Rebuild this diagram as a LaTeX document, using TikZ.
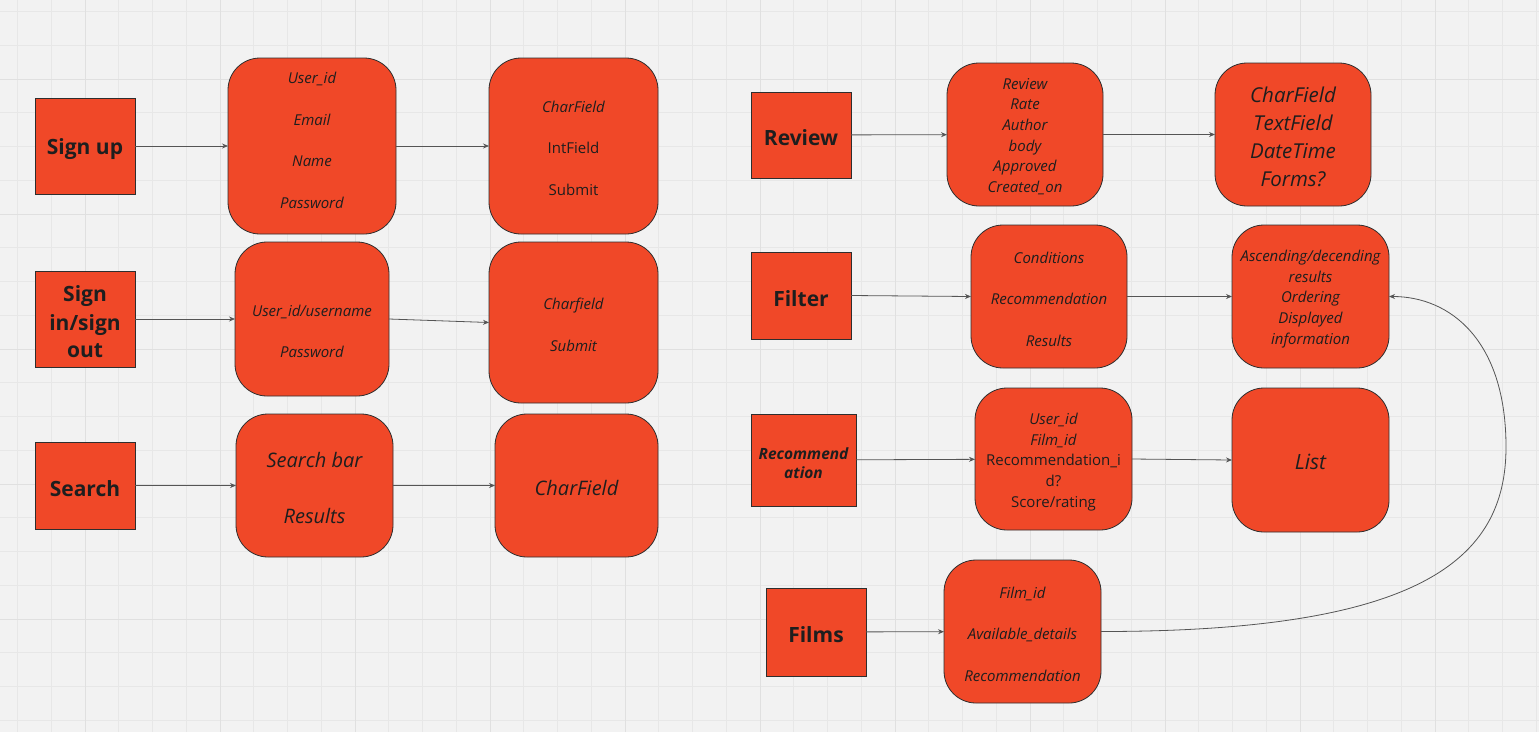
\documentclass[tikz,border=0pt]{standalone}
\usepackage{fontspec}
\setmainfont{Open Sans}
\usetikzlibrary{arrows.meta}

\definecolor{canvas}{HTML}{F2F2F2}
\definecolor{gridminor}{HTML}{E7E7E7}
\definecolor{gridmajor}{HTML}{E0E0E0}
\definecolor{boxfill}{HTML}{F04828}
\definecolor{edge}{HTML}{2E2E2E}
\definecolor{ink}{HTML}{1E1E1E}
\definecolor{wire}{HTML}{555555}

% lower a title by a few points without changing its box
\newcommand{\dropin}[1]{\raisebox{-3pt}[\height][\depth]{#1}}

\begin{document}
\begin{tikzpicture}[x=1pt, y=-1pt,
  entity/.style={draw=edge, fill=boxfill, line width=0.8pt, inner sep=0pt, outer sep=0pt, rectangle},
  field/.style={entity, rounded corners=32pt},
  head/.style={text=ink, align=center, font=\bfseries\fontsize{21}{28}\selectfont},
  body/.style={text=ink, align=center, inner sep=0pt, yshift=-2pt, font=\itshape\fontsize{15}{41.5}\selectfont},
  tight/.style={font=\itshape\fontsize{15}{20.7}\selectfont},
  big/.style={font=\itshape\fontsize{20.5}{28}\selectfont},
  link/.style={draw=wire, line width=0.8pt, -{Stealth[length=6pt, width=5pt]}},
]
% canvas and grid
\useasboundingbox (0,0) rectangle (1539,732);
\fill[canvas] (0,0) rectangle (1539,732);
\foreach \i in {0,...,45} \draw[gridminor, line width=0.8pt] (17.5+33.75*\i,0) -- (17.5+33.75*\i,732);
\foreach \i in {0,...,21} \draw[gridminor, line width=0.8pt] (0,11.5+33.75*\i) -- (1539,11.5+33.75*\i);
\foreach \i in {0,...,11} \draw[gridmajor, line width=1pt] (85+135*\i,0) -- (85+135*\i,732);
\foreach \i in {0,...,5} \draw[gridmajor, line width=1pt] (0,79+135*\i) -- (1539,79+135*\i);

% ---- left column: entities ----
\node[entity, head, minimum width=100pt, minimum height=96pt] (su) at (85,146) {\dropin{Sign up}};
\node[entity, head, minimum width=100pt, minimum height=96pt] (si) at (85,319) {\dropin{\shortstack{Sign\\[5pt]in/sign\\[5pt]out}}};
\node[entity, head, minimum width=100pt, minimum height=87pt] (se) at (85,485.5) {\dropin{Search}};

% ---- left column: fields ----
\node[field, minimum width=168pt, minimum height=176pt] (suf) at (312,146) {};
\node[body] (suf-t) at (312,138.5) {User\_id\\Email\\Name\\Password};
\node[field, minimum width=169pt, minimum height=176pt] (suc) at (573.5,146) {};
\node[body] (suc-t) at (573.5,146) {CharField\\\upshape IntField\\\upshape Submit};

\node[field, minimum width=154pt, minimum height=154pt] (sif) at (312,319) {};
\node[body] (sif-t) at (312,329.5) {User\_id/username\\Password};
\node[field, minimum width=169pt, minimum height=161pt] (sic) at (573.5,322.5) {};
\node[body] (sic-t) at (573.5,323) {Charfield\\Submit};

\node[field, minimum width=157pt, minimum height=143pt] (sef) at (314.5,485.5) {};
\node[body, font=\itshape\fontsize{20}{56}\selectfont] (sef-t) at (314.5,486) {Search bar\\Results};
\node[field, minimum width=163pt, minimum height=143pt] (sec) at (576.5,485.5) {};
\node[body, font=\itshape\fontsize{20}{28}\selectfont] (sec-t) at (576.5,486) {CharField};

% ---- right column: entities ----
\node[entity, head, minimum width=100pt, minimum height=86pt] (rv) at (801,135) {\dropin{Review}};
\node[entity, head, minimum width=100pt, minimum height=87pt] (fi) at (801,295.5) {\dropin{Filter}};
\node[entity, head, font=\bfseries\itshape\fontsize{15.5}{20}\selectfont, minimum width=105pt, minimum height=92pt] (rc) at (803.5,460) {\dropin{\shortstack{Recommend\\[4pt]ation}}};
\node[entity, head, minimum width=100pt, minimum height=88pt] (fm) at (816,632) {\dropin{Films}};

% ---- right column: fields ----
\node[field, minimum width=156pt, minimum height=143pt] (rvf) at (1025,134.5) {};
\node[body, tight] (rvf-t) at (1025,134.5) {Review\\Rate\\Author\\body\\Approved\\Created\_on};
\node[field, minimum width=156pt, minimum height=143pt] (rvc) at (1293,134.5) {};
\node[body, big] (rvc-t) at (1293,135) {CharField\\TextField\\DateTime\\Forms?};

\node[field, minimum width=156pt, minimum height=143pt] (fif) at (1049,296.5) {};
\node[body] (fif-t) at (1049,297) {Conditions\\Recommendation\\Results};
\node[field, minimum width=157pt, minimum height=143pt] (asc) at (1310.5,296.5) {};
\node[body, tight] (asc-t) at (1310.5,297) {Ascending/decending\\results\\Ordering\\Displayed\\information};

\node[field, minimum width=157pt, minimum height=142pt] (rcf) at (1053.5,459) {};
\node[body, tight] (rcf-t) at (1053.5,460) {User\_id\\Film\_id\\\upshape Recommendation\_i\\\upshape d?\\\upshape Score/rating};
\node[field, minimum width=157pt, minimum height=144pt] (lst) at (1310.5,460) {};
\node[body, font=\itshape\fontsize{21}{28}\selectfont] (lst-t) at (1310.5,460) {List};

\node[field, minimum width=157pt, minimum height=143pt] (fmf) at (1022.5,631.5) {};
\node[body] (fmf-t) at (1022.5,632) {Film\_id\\Available\_details\\Recommendation};

% ---- connectors ----
\draw[link] (su) -- (suf);
\draw[link] (suf) -- (suc);
\draw[link] (si) -- (sif);
\draw[link] (sif.east) -- (sic.west);
\draw[link] (se) -- (sef);
\draw[link] (sef) -- (sec);
\draw[link] (rv) -- (rvf);
\draw[link] (rvf) -- (rvc);
\draw[link] (fi.east) -- (fif.west);
\draw[link] (fif) -- (asc);
\draw[link] (rc) -- (rcf);
\draw[link] (rcf.east) -- (lst.west);
\draw[link] (fm) -- (fmf);
\coordinate (bend) at (1506,447);
\draw[link] (fmf.east) .. controls +(319,0) and +(0,113) .. (bend)
  .. controls +(0,-107) and +(61,0) .. (asc.east);
\end{tikzpicture}
\end{document}
